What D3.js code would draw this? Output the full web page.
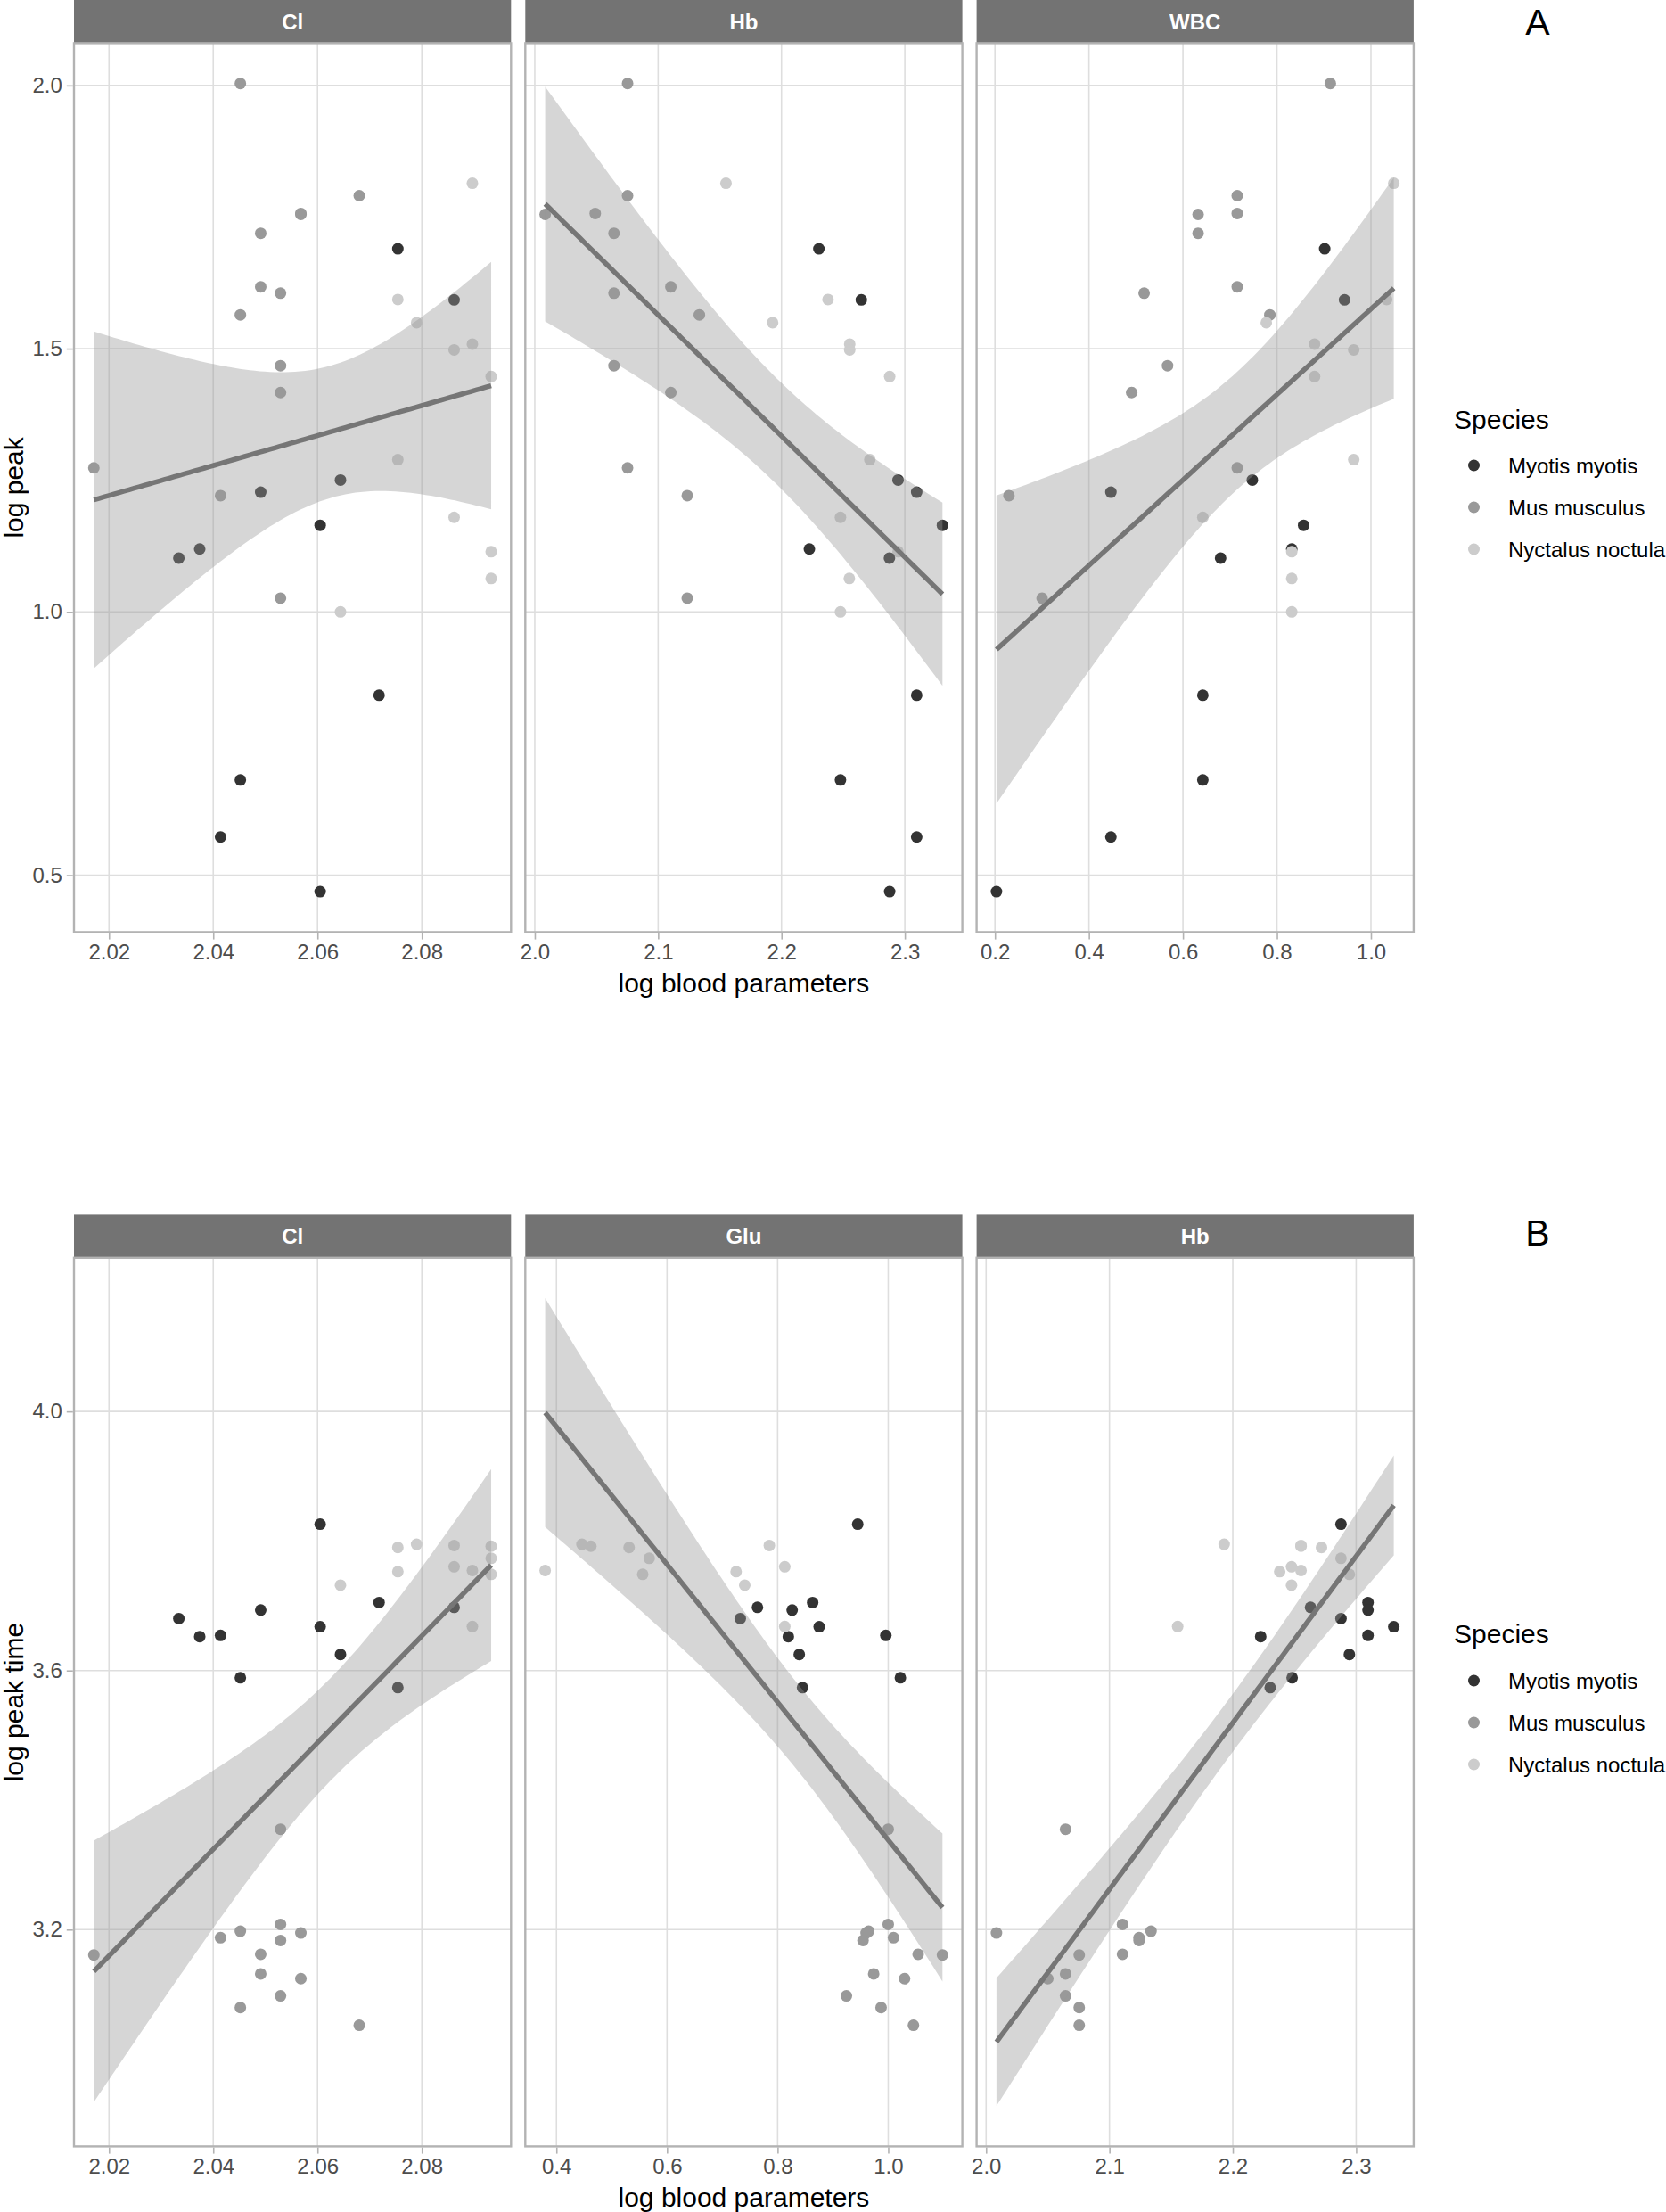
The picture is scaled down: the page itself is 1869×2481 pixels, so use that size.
<!DOCTYPE html>
<html><head><meta charset="utf-8">
<script src="https://cdn.jsdelivr.net/npm/d3@7"></script>
<style>
body{margin:0;background:#fff}
svg{display:block}
text{font-family:"Liberation Sans",Arial,Helvetica,sans-serif}
</style>
</head><body>
<svg id="chart" width="1869" height="2481"></svg>
<script>
// ---------------- DATA ----------------
const speciesCodes = ["My","Mu","Ny"];
const speciesNames = ["Myotis myotis","Mus musculus","Nyctalus noctula"];

// Panel A : log peak vs log blood parameters (Cl, Hb, WBC)
const A_species = ["Mu","Ny","Mu","Mu","Mu","Mu","My","Mu","Mu","Ny","My","Mu","Ny","Ny","Ny","Mu","Ny","Mu","Ny","Mu","My","My","Mu","Ny","My","My","Ny","My","Ny","Mu","Ny","My","My","My","My"];
const A_logPeak = [2.0036,1.8142,1.7906,1.7550,1.7568,1.7192,1.6896,1.6176,1.6055,1.5934,1.5928,1.5642,1.5493,1.5087,1.4978,1.4676,1.4470,1.4167,1.2891,1.2736,1.2504,1.2274,1.2208,1.1796,1.1645,1.1195,1.1143,1.1022,1.0635,1.0260,1.0000,0.8416,0.6808,0.5725,0.4686];
const A_Cl  = [2.0452,2.0897,2.0680,2.0568,2.0568,2.0491,2.0754,2.0491,2.0529,2.0754,2.0862,2.0452,2.0790,2.0897,2.0862,2.0529,2.0933,2.0529,2.0754,2.0171,2.0644,2.0491,2.0414,2.0862,2.0605,2.0374,2.0933,2.0334,2.0933,2.0529,2.0644,2.0718,2.0452,2.0414,2.0605];
const A_Hb  = [2.0752,2.1550,2.0752,2.0084,2.0490,2.0642,2.2303,2.1103,2.0642,2.2377,2.2647,2.1334,2.1928,2.2553,2.2553,2.0642,2.2877,2.1103,2.2716,2.0752,2.2945,2.3096,2.1236,2.2478,2.3305,2.2226,2.2945,2.2875,2.2550,2.1236,2.2478,2.3096,2.2478,2.3096,2.2877];
const A_WBC = [0.9136,1.0486,0.7155,0.6322,0.7155,0.6322,0.9016,0.7155,0.5174,1.0334,0.9438,0.7849,0.7773,0.8801,0.9634,0.5672,0.8801,0.4909,0.9634,0.7155,0.7476,0.4467,0.2297,0.6423,0.8568,0.8315,0.8315,0.6801,0.8315,0.3003,0.8315,0.6423,0.6423,0.4467,0.2032];

// Panel B : log peak time vs log blood parameters (Cl, Glu, Hb)
const B_species = ["My","My","My","My","My","My","My","My","My","My","My","Ny","Ny","Ny","Ny","Ny","Ny","Ny","Ny","Ny","Ny","Ny","Mu","Mu","Mu","Mu","Mu","Mu","Mu","Mu","Mu","Mu","Mu","Mu","Mu"];
const B_logPeakTime = [3.8260,3.7050,3.6976,3.6935,3.6803,3.6676,3.6542,3.6524,3.6248,3.5888,3.5737,3.7950,3.7920,3.7931,3.7900,3.7733,3.7602,3.7545,3.7526,3.7485,3.7318,3.6680,3.3550,3.2080,3.1975,3.1947,3.1875,3.1833,3.1609,3.1619,3.1316,3.1243,3.0977,3.0797,3.0523];
const B_Cl  = [2.0605,2.0718,2.0862,2.0491,2.0334,2.0605,2.0414,2.0374,2.0644,2.0452,2.0754,2.0790,2.0933,2.0862,2.0754,2.0933,2.0862,2.0897,2.0754,2.0933,2.0644,2.0897,2.0529,2.0529,2.0452,2.0568,2.0414,2.0529,2.0171,2.0491,2.0491,2.0568,2.0529,2.0452,2.0680];
const B_Glu = [0.9448,0.8633,0.7635,0.8263,0.7324,0.8751,0.9957,0.8193,0.8391,1.0220,0.8450,0.4461,0.4622,0.7850,0.5314,0.5678,0.8129,0.3796,0.7249,0.5560,0.7405,0.8129,1.0000,1.0000,0.9646,0.9600,1.0096,0.9544,1.0981,1.0541,0.9737,1.0295,0.9244,0.9871,1.0456];
const B_Hb  = [2.2877,2.3096,2.2630,2.3096,2.2877,2.3305,2.3096,2.2226,2.2945,2.2481,2.2303,2.1930,2.2553,2.2553,2.2719,2.2877,2.2476,2.2553,2.2380,2.2945,2.2476,2.1553,2.0644,2.1106,2.1337,2.0084,2.1240,2.1240,2.0755,2.1106,2.0644,2.0500,2.0644,2.0755,2.0755];

// Tick values
const A_yTicks = [0.5,1.0,1.5,2.0];
const B_yTicks = [3.2,3.6,4.0];
const ClTicks  = [2.02,2.04,2.06,2.08];
const HbTicks  = [2.0,2.1,2.2,2.3];
const WBCTicks = [0.2,0.4,0.6,0.8,1.0];
const GluTicks = [0.4,0.6,0.8,1.0];

// ---------------- HELPERS ----------------
function tQuantile975(nu){ // Cornish-Fisher expansion
  const z=1.959964, z3=z**3, z5=z**5, z7=z**7;
  return z + (z3+z)/(4*nu) + (5*z5+16*z3+3*z)/(96*nu*nu) + (3*z7+19*z5+17*z3-15*z)/(384*nu**3);
}
function lmBand(xs, ys, n=80){
  const N=xs.length, mx=d3.mean(xs), my=d3.mean(ys);
  let sxx=0, sxy=0;
  for(let i=0;i<N;i++){ sxx+=(xs[i]-mx)**2; sxy+=(xs[i]-mx)*(ys[i]-my); }
  const b=sxy/sxx, a=my-b*mx;
  let sse=0; for(let i=0;i<N;i++){ sse+=(ys[i]-(a+b*xs[i]))**2; }
  const s=Math.sqrt(sse/(N-2)), t=tQuantile975(N-2);
  const [x0,x1]=d3.extent(xs);
  return d3.range(n).map(i=>{
    const x=x0+(x1-x0)*i/(n-1), f=a+b*x, se=s*Math.sqrt(1/N+(x-mx)**2/sxx);
    return {x, fit:f, lo:f-t*se, hi:f+t*se};
  });
}
function expand(ext){ const r=ext[1]-ext[0]; return [ext[0]-0.05*r, ext[1]+0.05*r]; }

// ---------------- LAYOUT ----------------
const svg = d3.select("#chart");
const color = d3.scaleOrdinal().domain(speciesCodes).range(["#333333","#999999","#cccccc"]);
const panelLeft0 = 83, panelW = 490.3, panelGap = 16.0;
const stripH = 48.4;

const rows = [
  {letter:"A", stripTop:0, bottom:1045.4, y:A_logPeak, sp:A_species, yTicks:A_yTicks, yTitle:"log peak",
   letterY:39.3, legTitleY:480.5, legY:[522,569,616],
   facets:[{name:"Cl",x:A_Cl,ticks:ClTicks,fmt:".2f"},{name:"Hb",x:A_Hb,ticks:HbTicks,fmt:".1f"},{name:"WBC",x:A_WBC,ticks:WBCTicks,fmt:".1f"}]},
  {letter:"B", stripTop:1362.4, bottom:2407.4, y:B_logPeakTime, sp:B_species, yTicks:B_yTicks, yTitle:"log peak time",
   letterY:1397.3, legTitleY:1842.5, legY:[1885,1932,1979],
   facets:[{name:"Cl",x:B_Cl,ticks:ClTicks,fmt:".2f"},{name:"Glu",x:B_Glu,ticks:GluTicks,fmt:".1f"},{name:"Hb",x:B_Hb,ticks:HbTicks,fmt:".1f"}]}
];

rows.forEach(row=>{
  const top = row.stripTop + stripH;
  row.facets.forEach(f=>{ f.band = lmBand(f.x, row.y); });
  const allY = row.y.concat(...row.facets.map(f=>f.band.flatMap(d=>[d.lo,d.hi])));
  const yScale = d3.scaleLinear().domain(expand(d3.extent(allY))).range([row.bottom, top]);

  row.facets.forEach((f,i)=>{
    const left = panelLeft0 + i*(panelW+panelGap), right = left+panelW;
    const xScale = d3.scaleLinear().domain(expand(d3.extent(f.x))).range([left,right]);
    const g = svg.append("g");

    // strip
    g.append("rect").attr("x",left).attr("y",row.stripTop).attr("width",panelW).attr("height",stripH).attr("fill","#737373");
    g.append("text").attr("x",(left+right)/2).attr("y",row.stripTop+stripH/2).attr("dy","0.36em")
      .attr("text-anchor","middle").attr("fill","#fff").attr("font-weight","bold").attr("font-size",24).text(f.name);

    // panel bg + grid
    g.append("rect").attr("x",left).attr("y",top).attr("width",panelW).attr("height",row.bottom-top).attr("fill","#fff");
    g.selectAll(".gx").data(f.ticks).join("line").attr("x1",d=>xScale(d)).attr("x2",d=>xScale(d))
      .attr("y1",top).attr("y2",row.bottom).attr("stroke","#dedede").attr("stroke-width",1.6);
    g.selectAll(".gy").data(row.yTicks).join("line").attr("y1",d=>yScale(d)).attr("y2",d=>yScale(d))
      .attr("x1",left).attr("x2",right).attr("stroke","#dedede").attr("stroke-width",1.6);

    // points
    g.selectAll(".pt").data(f.x.map((x,k)=>({x, y:row.y[k], s:row.sp[k]}))).join("circle")
      .attr("cx",d=>xScale(d.x)).attr("cy",d=>yScale(d.y)).attr("r",6.5).attr("fill",d=>color(d.s));

    // ribbon + line
    g.append("path").datum(f.band).attr("fill","#999999").attr("fill-opacity",0.4)
      .attr("d",d3.area().x(d=>xScale(d.x)).y0(d=>yScale(d.lo)).y1(d=>yScale(d.hi)));
    g.append("path").datum(f.band).attr("fill","none").attr("stroke","#767676").attr("stroke-width",5.5)
      .attr("d",d3.line().x(d=>xScale(d.x)).y(d=>yScale(d.fit)));

    // border
    g.append("rect").attr("x",left).attr("y",top).attr("width",panelW).attr("height",row.bottom-top)
      .attr("fill","none").attr("stroke","#b3b3b3").attr("stroke-width",2.4);

    // x axis
    const ax = g.append("g").attr("transform",`translate(0,${row.bottom+1.2})`)
      .call(d3.axisBottom(xScale).tickValues(f.ticks).tickFormat(d3.format(f.fmt)).tickSize(7).tickPadding(5));
    ax.select(".domain").remove();
    ax.selectAll("line").attr("stroke","#b3b3b3").attr("stroke-width",1.6);
    ax.selectAll("text").attr("font-size",24).attr("fill","#4d4d4d").attr("font-family",'"Liberation Sans",Arial,sans-serif');

    if(i===0){
      const ay = g.append("g").attr("transform",`translate(${left-1.2},0)`)
        .call(d3.axisLeft(yScale).tickValues(row.yTicks).tickFormat(d3.format(".1f")).tickSize(7).tickPadding(5));
      ay.select(".domain").remove();
      ay.selectAll("line").attr("stroke","#b3b3b3").attr("stroke-width",1.6);
      ay.selectAll("text").attr("font-size",24).attr("fill","#4d4d4d").attr("font-family",'"Liberation Sans",Arial,sans-serif');
    }
  });

  // axis titles
  const pl = panelLeft0, pr = panelLeft0 + 3*panelW + 2*panelGap;
  svg.append("text").attr("x",(pl+pr)/2).attr("y",row.bottom+67.6).attr("text-anchor","middle")
    .attr("font-size",30).attr("fill","#000").text("log blood parameters");
  svg.append("text").attr("transform",`translate(26,${(top+row.bottom)/2}) rotate(-90)`).attr("text-anchor","middle")
    .attr("font-size",30).attr("fill","#000").text(row.yTitle);

  // panel letter
  svg.append("text").attr("x",1725).attr("y",row.letterY).attr("text-anchor","middle")
    .attr("font-size",41).attr("fill","#000").text(row.letter);

  // legend
  const lg = svg.append("g");
  lg.append("text").attr("x",1631).attr("y",row.legTitleY).attr("font-size",30).attr("fill","#000").text("Species");
  speciesCodes.forEach((c,k)=>{
    lg.append("circle").attr("cx",1653.5).attr("cy",row.legY[k]).attr("r",6.5).attr("fill",color(c));
    lg.append("text").attr("x",1692).attr("y",row.legY[k]+8.8).attr("font-size",24).attr("fill","#000").text(speciesNames[k]);
  });
});
</script>
</body></html>
